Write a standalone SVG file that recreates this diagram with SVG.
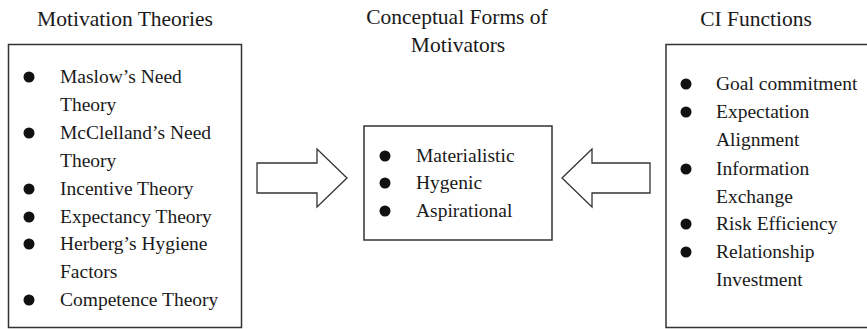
<svg xmlns="http://www.w3.org/2000/svg" width="867" height="329" viewBox="0 0 867 329" font-family="'Liberation Serif', 'Times New Roman', serif">
<style>
text{fill:#1a1a1a;font-family:'Liberation Serif','Times New Roman',serif;}
.t{font-size:21.5px;}
.b{font-size:19.5px;}
.box{fill:#fff;stroke:#333;stroke-width:1.5;}
.arr{fill:#fff;stroke:#333;stroke-width:1.3;stroke-linejoin:miter;}
.dot{fill:#111;}
</style>
<rect width="867" height="329" fill="#fff"/>
<g id="motivation-theories">
<text class="t" x="125" y="26" text-anchor="middle">Motivation Theories</text>
<rect class="box" x="8.5" y="44.5" width="233" height="283"/>
<circle class="dot" cx="29" cy="77" r="5.5"/><text class="b" x="60" y="83">Maslow’s Need</text>
<text class="b" x="60" y="111">Theory</text>
<circle class="dot" cx="29" cy="133" r="5.5"/><text class="b" x="60" y="139">McClelland’s Need</text>
<text class="b" x="60" y="167">Theory</text>
<circle class="dot" cx="29" cy="189" r="5.5"/><text class="b" x="60" y="195">Incentive Theory</text>
<circle class="dot" cx="29" cy="217" r="5.5"/><text class="b" x="60" y="223">Expectancy Theory</text>
<circle class="dot" cx="29" cy="244" r="5.5"/><text class="b" x="60" y="250">Herberg’s Hygiene</text>
<text class="b" x="60" y="278">Factors</text>
<circle class="dot" cx="29" cy="300" r="5.5"/><text class="b" x="60" y="306">Competence Theory</text>
</g>
<g id="conceptual-forms">
<text class="t" x="457" y="24" text-anchor="middle">Conceptual Forms of</text>
<text class="t" x="458" y="52" text-anchor="middle">Motivators</text>
<rect class="box" x="364" y="126" width="188" height="114"/>
<circle class="dot" cx="385" cy="156" r="5.5"/><text class="b" x="416" y="162">Materialistic</text>
<circle class="dot" cx="385" cy="183" r="5.5"/><text class="b" x="416" y="189">Hygenic</text>
<circle class="dot" cx="385" cy="211" r="5.5"/><text class="b" x="416" y="217">Aspirational</text>
</g>
<g id="ci-functions">
<text class="t" x="756" y="26" text-anchor="middle">CI Functions</text>
<rect class="box" x="666" y="44.5" width="210" height="283"/>
<circle class="dot" cx="686" cy="84" r="5.5"/><text class="b" x="716" y="90">Goal commitment</text>
<circle class="dot" cx="686" cy="112" r="5.5"/><text class="b" x="716" y="118">Expectation</text>
<text class="b" x="716" y="146">Alignment</text>
<circle class="dot" cx="686" cy="169" r="5.5"/><text class="b" x="716" y="175">Information</text>
<text class="b" x="716" y="203">Exchange</text>
<circle class="dot" cx="686" cy="224" r="5.5"/><text class="b" x="716" y="230">Risk Efficiency</text>
<circle class="dot" cx="686" cy="252" r="5.5"/><text class="b" x="716" y="258">Relationship</text>
<text class="b" x="716" y="286">Investment</text>
</g>
<g id="connectors">
<polygon class="arr" points="257,163 317,163 317,149 347,178 317,207 317,193 257,193"/>
<polygon class="arr" points="650,163 592,163 592,149 562,178 592,207 592,193 650,193"/>
</g>
</svg>
